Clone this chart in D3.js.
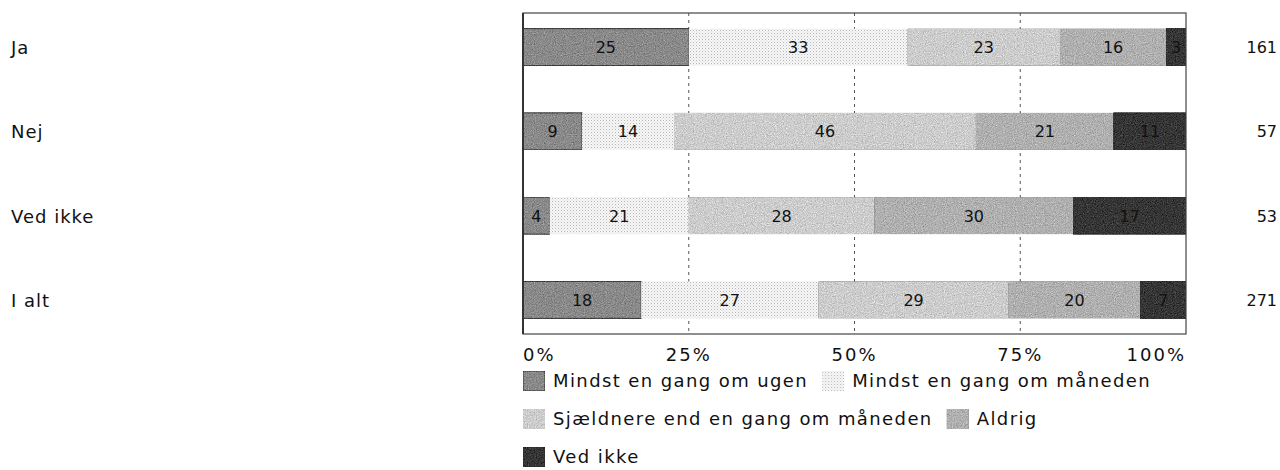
<!DOCTYPE html>
<html>
<head>
<meta charset="utf-8">
<script src="https://cdn.jsdelivr.net/npm/d3@7"></script>
<style>
  html, body { margin: 0; padding: 0; background: #fff; }
  svg { display: block; font-family: "DejaVu Sans", Verdana, sans-serif; }
</style>
</head>
<body>
<svg id="chart" width="1280" height="470"></svg>
<script>
// Answer groups (rows)
const categories = ["Ja", "Nej", "Ved ikke", "I alt"];
// Frequency answers (stacked segments), in percent per row
const seriesNames = [
  "Mindst en gang om ugen",
  "Mindst en gang om måneden",
  "Sjældnere end en gang om måneden",
  "Aldrig",
  "Ved ikke"
];
const weekly      = [25, 9, 4, 18];
const monthly     = [33, 14, 21, 27];
const rarely      = [23, 46, 28, 29];
const never       = [16, 21, 30, 20];
const dontKnow    = [3, 11, 17, 7];
// Number of respondents per row
const respondents = [161, 57, 53, 271];
// Axis ticks
const tickValues = [0, 0.25, 0.5, 0.75, 1];
const tickLabels = ["0%", "25%", "50%", "75%", "100%"];
// Legend lines (indices into seriesNames)
const legendLines = [[0, 1], [2, 3], [4]];

const seriesValues = [weekly, monthly, rarely, never, dontKnow];
const fills = ["#8a8a8a", "url(#stipple)", "#cdcdcd", "#b0b0b0", "#363636"];
const strokes = ["#333", "none", "none", "none", "#2a2a2a"];
const grainy = [true, false, true, true, true];

const svg = d3.select("#chart");
const defs = svg.append("defs");

// light dotted fill
const pat = defs.append("pattern")
  .attr("id", "stipple").attr("patternUnits", "userSpaceOnUse")
  .attr("width", 3).attr("height", 3);
pat.append("rect").attr("width", 3).attr("height", 3).attr("fill", "#f7f7f7");
pat.append("rect").attr("x", 0).attr("y", 0).attr("width", 1).attr("height", 1).attr("fill", "#b5b5b5");
pat.append("rect").attr("x", 1.5).attr("y", 1.5).attr("width", 1).attr("height", 1).attr("fill", "#d6d6d6");

// printed-grain texture for solid fills
const grain = defs.append("filter")
  .attr("id", "grain").attr("x", 0).attr("y", 0).attr("width", 1).attr("height", 1)
  .attr("color-interpolation-filters", "sRGB");
grain.append("feTurbulence")
  .attr("type", "fractalNoise").attr("baseFrequency", 0.9).attr("numOctaves", 2)
  .attr("seed", 7).attr("result", "noise");
grain.append("feColorMatrix")
  .attr("in", "noise").attr("type", "matrix")
  .attr("values", "0.33 0.33 0.33 0 0  0.33 0.33 0.33 0 0  0.33 0.33 0.33 0 0  0 0 0 0 1")
  .attr("result", "gray");
grain.append("feComposite")
  .attr("in", "SourceGraphic").attr("in2", "gray")
  .attr("operator", "arithmetic")
  .attr("k1", 0).attr("k2", 1).attr("k3", 0.7).attr("k4", -0.35)
  .attr("result", "mix");
grain.append("feComposite")
  .attr("in", "mix").attr("in2", "SourceGraphic").attr("operator", "in");

const plot = { left: 523, right: 1186, top: 13, bottom: 334 };

const rows = categories.map((c, i) => {
  const r = { cat: c };
  seriesNames.forEach((s, j) => { r[s] = seriesValues[j][i]; });
  return r;
});

const stacked = d3.stack()
  .keys(seriesNames)
  .offset(d3.stackOffsetExpand)(rows);

const x = d3.scaleLinear().domain([0, 1]).range([plot.left, plot.right]);
const y = d3.scalePoint().domain(categories).range([plot.top, plot.bottom]).padding(0.405);
const barH = 37;

// vertical dashed grid
svg.append("g").selectAll("line")
  .data(tickValues.slice(1, -1))
  .join("line")
  .attr("x1", d => x(d)).attr("x2", d => x(d))
  .attr("y1", plot.top).attr("y2", plot.bottom)
  .attr("stroke", "#555").attr("stroke-width", 1)
  .attr("stroke-dasharray", "3,4");

// stacked bars
const layers = svg.append("g").selectAll("g")
  .data(stacked)
  .join("g")
  .attr("fill", (d, i) => fills[i])
  .attr("stroke", (d, i) => strokes[i]);

layers.selectAll("rect")
  .data(d => d)
  .join("rect")
  .attr("x", d => x(d[0]))
  .attr("width", d => x(d[1]) - x(d[0]))
  .attr("y", d => y(d.data.cat) - barH / 2)
  .attr("height", barH)
  .attr("filter", function () {
    const j = stacked.indexOf(d3.select(this.parentNode).datum());
    return grainy[j] ? "url(#grain)" : null;
  });

// segment value labels
const labels = svg.append("g")
  .attr("font-size", 16).attr("fill", "#111").attr("text-anchor", "middle");
stacked.forEach((layer, j) => {
  layer.forEach(d => {
    labels.append("text")
      .attr("x", (x(d[0]) + x(d[1])) / 2)
      .attr("y", y(d.data.cat) + 6)
      .text(d.data[seriesNames[j]]);
  });
});

// plot frame
svg.append("rect")
  .attr("x", plot.left).attr("y", plot.top)
  .attr("width", plot.right - plot.left).attr("height", plot.bottom - plot.top)
  .attr("fill", "none").attr("stroke", "#444").attr("stroke-width", 1.2);
svg.append("line")
  .attr("x1", plot.left).attr("x2", plot.left)
  .attr("y1", plot.top).attr("y2", plot.bottom)
  .attr("stroke", "#333").attr("stroke-width", 2);

// row labels
svg.append("g").selectAll("text")
  .data(categories)
  .join("text")
  .attr("x", 11).attr("y", d => y(d) + 7)
  .attr("font-size", 18).attr("letter-spacing", 1).attr("fill", "#111")
  .text(d => d);

// respondent counts
svg.append("g").selectAll("text")
  .data(categories)
  .join("text")
  .attr("x", 1277).attr("y", (d, i) => y(d) + 6)
  .attr("text-anchor", "end")
  .attr("font-size", 16).attr("fill", "#111")
  .text((d, i) => respondents[i]);

// x axis tick labels
svg.append("g").selectAll("text")
  .data(tickValues)
  .join("text")
  .attr("x", d => x(d))
  .attr("y", 361)
  .attr("text-anchor", (d, i) => i === 0 ? "start" : (i === tickValues.length - 1 ? "end" : "middle"))
  .attr("font-size", 18).attr("letter-spacing", 2).attr("fill", "#111")
  .text((d, i) => tickLabels[i]);

// legend
const legend = svg.append("g").attr("font-size", 18).attr("letter-spacing", 1.4).attr("fill", "#111");
const sw = 22, swH = 20, gapText = 8, gapItem = 14, rowStep = 38;
legendLines.forEach((line, r) => {
  let lx = plot.left;
  const ly = 381 + r * rowStep;
  line.forEach(j => {
    const g = legend.append("g").attr("transform", `translate(${lx},${ly})`);
    g.append("rect")
      .attr("x", 0).attr("y", -swH / 2).attr("width", sw).attr("height", swH)
      .attr("fill", fills[j]).attr("stroke", strokes[j])
      .attr("filter", grainy[j] ? "url(#grain)" : null);
    const t = g.append("text").attr("x", sw + gapText).attr("y", 6).text(seriesNames[j]);
    lx += sw + gapText + t.node().getComputedTextLength() + gapItem;
  });
});
</script>
</body>
</html>
